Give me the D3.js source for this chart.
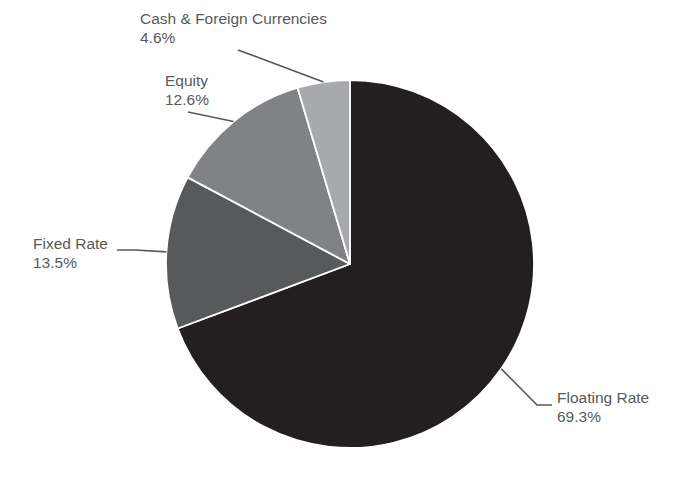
<!DOCTYPE html>
<html><head><meta charset="utf-8">
<script src="https://cdn.jsdelivr.net/npm/d3@7"></script>
<style>body{margin:0;background:#fff}svg{display:block}</style>
</head><body>
<svg id="c" width="700" height="500"></svg>
<script>
const categories = ["Floating Rate", "Fixed Rate", "Equity", "Cash & Foreign Currencies"];
const values = [69.3, 13.5, 12.6, 4.6];
const valueLabels = ["69.3%", "13.5%", "12.6%", "4.6%"];
const colors = ["#231f20", "#58595b", "#808285", "#a7a9ac"];

// label layout (styling): text anchor position and leader-line path points
const labelPos = [
  {x: 557, y: 403, line: [[537, 405], [552, 405]]},
  {x: 33, y: 248.5, line: [[135, 250], [117, 250]]},
  {x: 165, y: 86, line: [[188, 112]]},
  {x: 140, y: 23.5, line: [[238, 50]]}
];

const svg = d3.select("#c");
const cx = 350, cy = 264, r = 184;
const g = svg.append("g").attr("transform", `translate(${cx},${cy})`);

const pie = d3.pie().sort(null).value(d => d)(values);
const arc = d3.arc().innerRadius(0).outerRadius(r);

g.selectAll("path.slice").data(pie).join("path")
  .attr("class", "slice")
  .attr("d", arc)
  .attr("fill", (d, i) => colors[i])
  .attr("stroke", "#fff")
  .attr("stroke-width", 1.8)
  .attr("stroke-linejoin", "round");

const textColor = "#58595b";
pie.forEach((d, i) => {
  const a = (d.startAngle + d.endAngle) / 2;
  const p0 = [cx + r * Math.sin(a), cy - r * Math.cos(a)];
  const pts = [p0].concat(labelPos[i].line);
  svg.append("path")
    .attr("d", d3.line()(pts))
    .attr("fill", "none")
    .attr("stroke", textColor)
    .attr("stroke-width", 1.6);
  const t = svg.append("text")
    .attr("transform", `translate(${labelPos[i].x},${labelPos[i].y})`)
    .attr("font-family", "Liberation Sans, Arial, sans-serif")
    .attr("font-size", 15.5)
    .attr("fill", textColor);
  t.append("tspan").attr("x", 0).attr("y", 0).text(categories[i]);
  t.append("tspan").attr("x", 0).attr("y", 19).text(valueLabels[i]);
});
</script>
</body></html>
